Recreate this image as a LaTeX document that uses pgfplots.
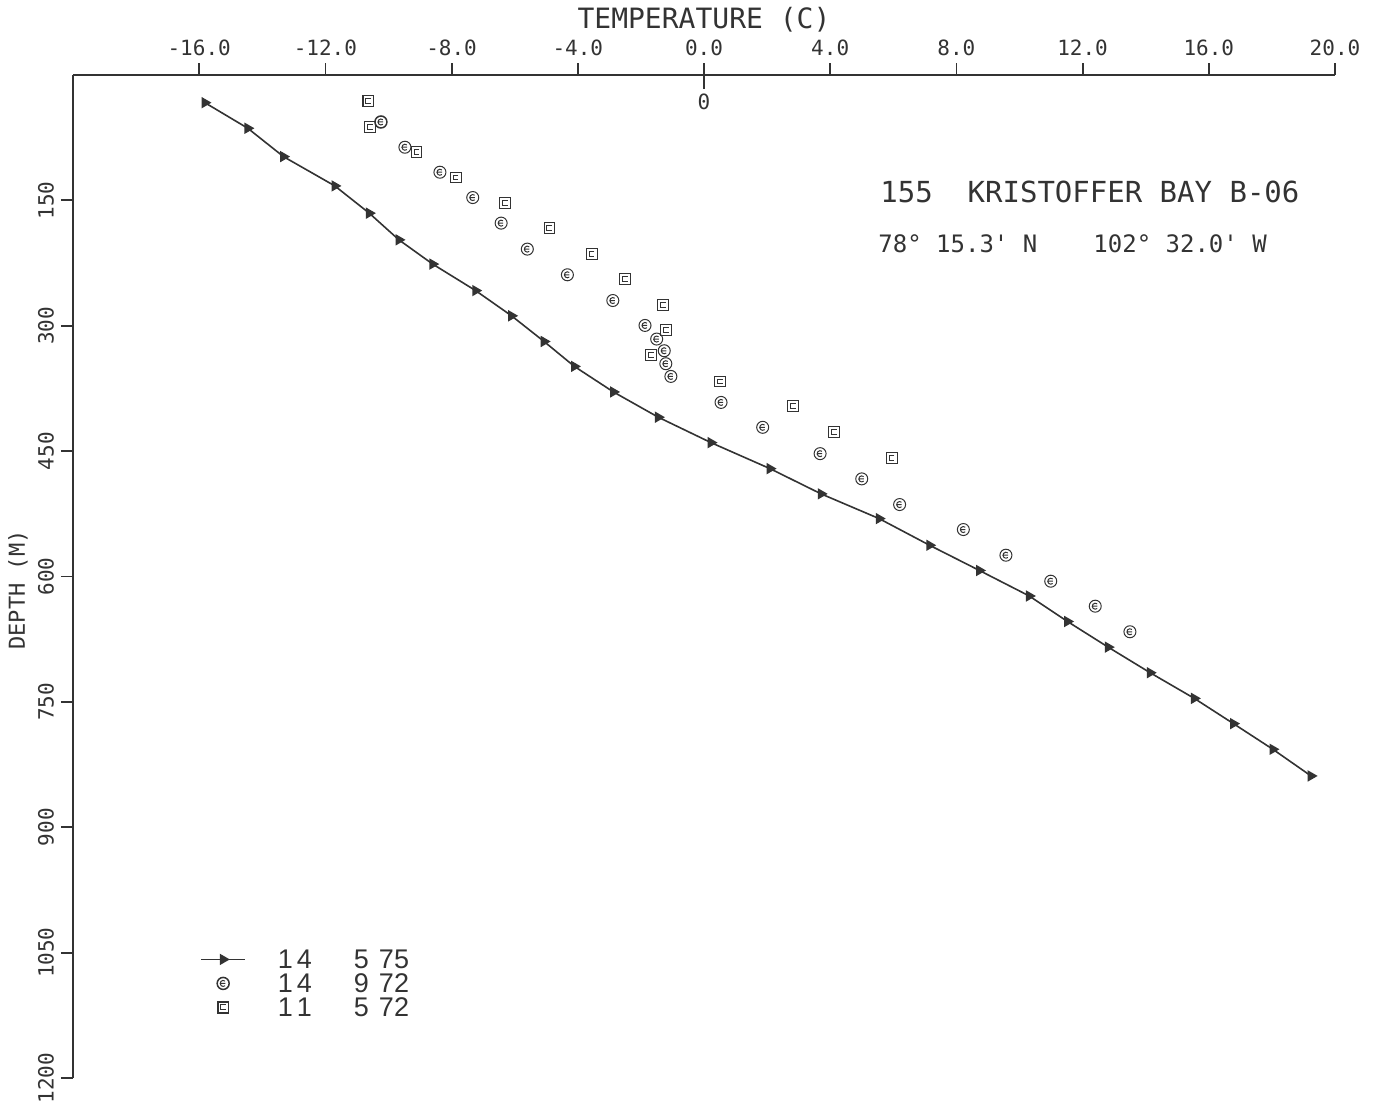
\documentclass[border=0pt]{standalone}
\usepackage{fontspec}
\setmainfont{DejaVu Sans Mono}[Ligatures=TeXOff]
\newfontfamily\legfont{Liberation Sans}
\usepackage{pgfplots}
\usepackage{pgfplotstable}
\pgfplotsset{compat=1.18}
\definecolor{ink}{rgb}{0.2,0.2,0.2}

\pgfdeclareplotmark{cmark}{%
  \pgfpathcircle{\pgfpointorigin}{\pgfplotmarksize}%
  \pgfusepathqstroke
  \pgfsetlinewidth{0.5pt}%
  \pgfpathmoveto{\pgfpointpolar{50}{0.5\pgfplotmarksize}}%
  \pgfpatharc{50}{310}{0.5\pgfplotmarksize}%
  \pgfpathmoveto{\pgfpoint{-0.5\pgfplotmarksize}{0pt}}%
  \pgfpathlineto{\pgfpoint{0.35\pgfplotmarksize}{0pt}}%
  \pgfusepathqstroke
}
\pgfdeclareplotmark{smark}{%
  \pgfpathrectanglecorners{\pgfpoint{-\pgfplotmarksize}{-\pgfplotmarksize}}{\pgfpoint{\pgfplotmarksize}{\pgfplotmarksize}}%
  \pgfusepathqstroke
  \pgfsetlinewidth{0.5pt}%
  \pgfpathmoveto{\pgfpoint{0.5\pgfplotmarksize}{0.45\pgfplotmarksize}}%
  \pgfpathlineto{\pgfpoint{-0.45\pgfplotmarksize}{0.45\pgfplotmarksize}}%
  \pgfpathlineto{\pgfpoint{-0.45\pgfplotmarksize}{-0.45\pgfplotmarksize}}%
  \pgfpathlineto{\pgfpoint{0.5\pgfplotmarksize}{-0.45\pgfplotmarksize}}%
  \pgfusepathqstroke
}

\pgfplotstableread{
T D
-15.82 33.1
-14.46 63.7
-13.33 97.6
-11.70 132.7
-10.61 165.3
-9.67 197.2
-8.60 226.2
-7.24 257.9
-6.10 288.1
-5.07 318.8
-4.11 348.6
-2.87 379.2
-1.45 409.4
0.22 439.8
2.09 470.9
3.71 501.1
5.55 530.7
7.15 562.6
8.73 592.8
10.31 623.3
11.52 653.8
12.81 684.5
14.14 715.1
15.54 745.8
16.78 776.0
18.03 806.7
19.24 838.6
}\seriesA

\pgfplotstableread{
T D
-10.24 56.2
-9.48 86.4
-8.37 116.3
-7.33 146.6
-6.43 177.2
-5.60 208.3
-4.33 239.0
-2.89 269.8
-1.87 299.6
-1.50 315.9
-1.26 329.9
-1.21 345.4
-1.05 360.6
0.54 391.7
1.86 421.5
3.68 453.0
5.00 483.2
6.20 513.9
8.22 543.8
9.57 574.5
10.99 605.6
12.40 635.5
13.50 666.1
}\seriesB

\pgfplotstableread{
T D
-10.64 31.1
-10.59 61.8
-9.11 91.7
-7.87 122.7
-6.31 153.3
-4.90 183.2
-3.56 213.9
-2.50 244.2
-1.29 275.3
-1.20 305.1
-1.68 335.2
0.51 366.6
2.83 396.4
4.12 427.0
5.95 458.1
}\seriesC

\begin{document}
\begin{tikzpicture}
\path[use as bounding box] (-36.5pt,37.5pt) rectangle (657.5pt,-513.5pt);
\begin{axis}[
  at={(0pt,0pt)}, anchor=north west,
  scale only axis, width=631pt, height=501.5pt,
  xmin=-20, xmax=20, ymin=0, ymax=1200, y dir=reverse,
  axis x line=top, axis y line=left,
  axis line style={-, ink, line width=0.9pt},
  tick align=outside, major tick length=6pt,
  tick style={ink, line width=0.9pt},
  xtick={-16,-12,-8,-4,0,4,8,12,16,20},
  xticklabels={-16.0,-12.0,-8.0,-4.0,0.0,4.0,8.0,12.0,16.0,20.0},
  ytick={150,300,450,600,750,900,1050,1200},
  yticklabels={150,300,450,600,750,900,1050,1200},
  ticklabel style={font=\fontsize{10.5}{12}\selectfont, text=ink},
  yticklabel style={rotate=90, anchor=south},
  clip=false,
  legend style={at={(axis description cs:0.1006,0.1306)}, anchor=north west,
    draw=none, fill=none, inner sep=0pt,
    font=\legfont\fontsize{13.5}{13.5}\selectfont, text=ink,
    nodes={inner sep=1pt, text height=9.5pt, text depth=0.5pt},
    /tikz/every odd column/.append style={column sep=15pt}},
  legend cell align=left,
  legend image code/.code={\draw[mark repeat=2,mark phase=2,#1] plot coordinates {(0pt,0pt)(11pt,0pt)(22pt,0pt)};},
]
\addplot[ink, line width=0.8pt, mark=triangle*, mark size=2.5pt, mark options={rotate=-90, fill=ink, solid}] table[x=T,y=D] {\seriesA};
\addlegendentry{1\kern2pt4\hspace{21pt}5\hspace{5pt}75}
\addplot[ink, only marks, mark=cmark, mark size=3pt, mark options={line width=0.75pt}] table[x=T,y=D] {\seriesB};
\addlegendentry{1\kern2pt4\hspace{21pt}9\hspace{5pt}72}
\addplot[ink, only marks, mark=smark, mark size=2.7pt, mark options={line width=0.75pt}] table[x=T,y=D] {\seriesC};
\addlegendentry{1\kern2pt1\hspace{21pt}5\hspace{5pt}72}
\end{axis}
% zero marker below top axis
\draw[ink, line width=0.9pt] (315.5pt,0pt) -- (315.5pt,-7pt);
\node[text=ink, font=\fontsize{10.5}{12}\selectfont] at (315.5pt,-13.5pt) {0};
% axis titles
\node[text=ink, font=\fontsize{14}{16}\selectfont] at (315.5pt,27.5pt) {TEMPERATURE (C)};
\node[text=ink, font=\fontsize{11}{13}\selectfont, rotate=90] at (-27.5pt,-257.5pt) {DEPTH (M)};
% well annotation
\node[text=ink, font=\fontsize{14.5}{16}\selectfont, anchor=west, inner sep=0pt] at (403.5pt,-58.5pt) {155\ \ KRISTOFFER BAY B-06};
\node[text=ink, font=\fontsize{12}{14}\selectfont, anchor=west, inner sep=0pt] at (402.5pt,-84.5pt) {78° 15.3' N};
\node[text=ink, font=\fontsize{12}{14}\selectfont, anchor=west, inner sep=0pt] at (510pt,-84.5pt) {102° 32.0' W};
\end{tikzpicture}
\end{document}
